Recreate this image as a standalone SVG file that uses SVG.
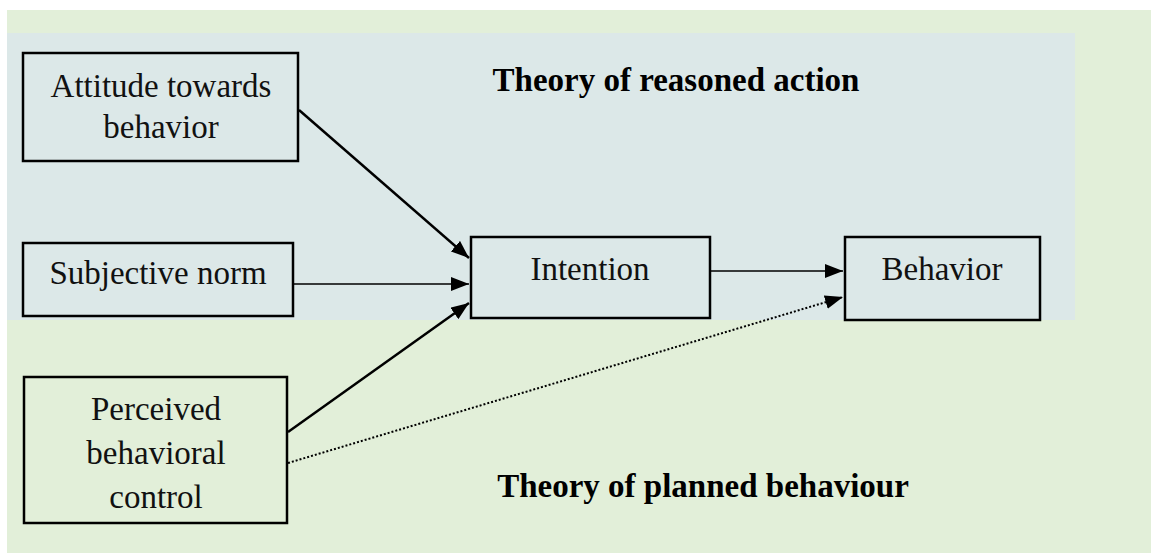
<svg xmlns="http://www.w3.org/2000/svg" width="1151" height="553" viewBox="0 0 1151 553">
<defs>
<style>
.box{fill:none;stroke:#000;stroke-width:2.5}
.t{font-family:"Liberation Serif","Times New Roman",serif;font-size:33px;fill:#111;text-anchor:middle}
.title{font-family:"Liberation Serif","Times New Roman",serif;font-size:33px;font-weight:bold;fill:#000;text-anchor:middle}
.c{fill:none;stroke:#000}
</style>
<marker id="ah" markerUnits="userSpaceOnUse" viewBox="0 0 18 14" refX="18" refY="7" markerWidth="18" markerHeight="14" orient="auto">
<path d="M0,0 L18,7 L0,14 Z" fill="#000"/>
</marker>
</defs>
<rect x="0" y="0" width="1151" height="553" fill="#ffffff"/>
<rect x="7" y="10" width="1144" height="543" fill="#E2EFD9"/>
<rect x="7" y="33" width="1068" height="287" fill="#DCE8E8"/>
<text class="title" x="676" y="91">Theory of reasoned action</text>
<text class="title" x="703" y="497">Theory of planned behaviour</text>
<g id="connectors">
<line class="c" x1="299" y1="110" x2="469" y2="258" stroke-width="2.5" marker-end="url(#ah)"/>
<line class="c" x1="293" y1="284" x2="469" y2="284" stroke-width="1.5" marker-end="url(#ah)"/>
<line class="c" x1="288" y1="432" x2="469" y2="303" stroke-width="2.5" marker-end="url(#ah)"/>
<line class="c" x1="710" y1="271" x2="843" y2="271" stroke-width="1.5" marker-end="url(#ah)"/>
<line class="c" x1="288" y1="463" x2="843" y2="297" stroke-width="2" stroke-dasharray="2 2" marker-end="url(#ah)"/>
</g>
<g id="attitude">
<rect class="box" x="23" y="53" width="275" height="108"/>
<text class="t" x="161" y="97">Attitude towards</text>
<text class="t" x="161" y="138">behavior</text>
</g>
<g id="subjective-norm">
<rect class="box" x="23" y="243" width="270" height="73"/>
<text class="t" x="158" y="284">Subjective norm</text>
</g>
<g id="perceived-control">
<rect class="box" x="24" y="377" width="263" height="146"/>
<text class="t" x="156" y="420">Perceived</text>
<text class="t" x="156" y="464">behavioral</text>
<text class="t" x="156" y="508">control</text>
</g>
<g id="intention">
<rect class="box" x="471" y="237" width="239" height="81"/>
<text class="t" x="590" y="280">Intention</text>
</g>
<g id="behavior">
<rect class="box" x="845" y="237" width="195" height="83"/>
<text class="t" x="942" y="280">Behavior</text>
</g>
</svg>
